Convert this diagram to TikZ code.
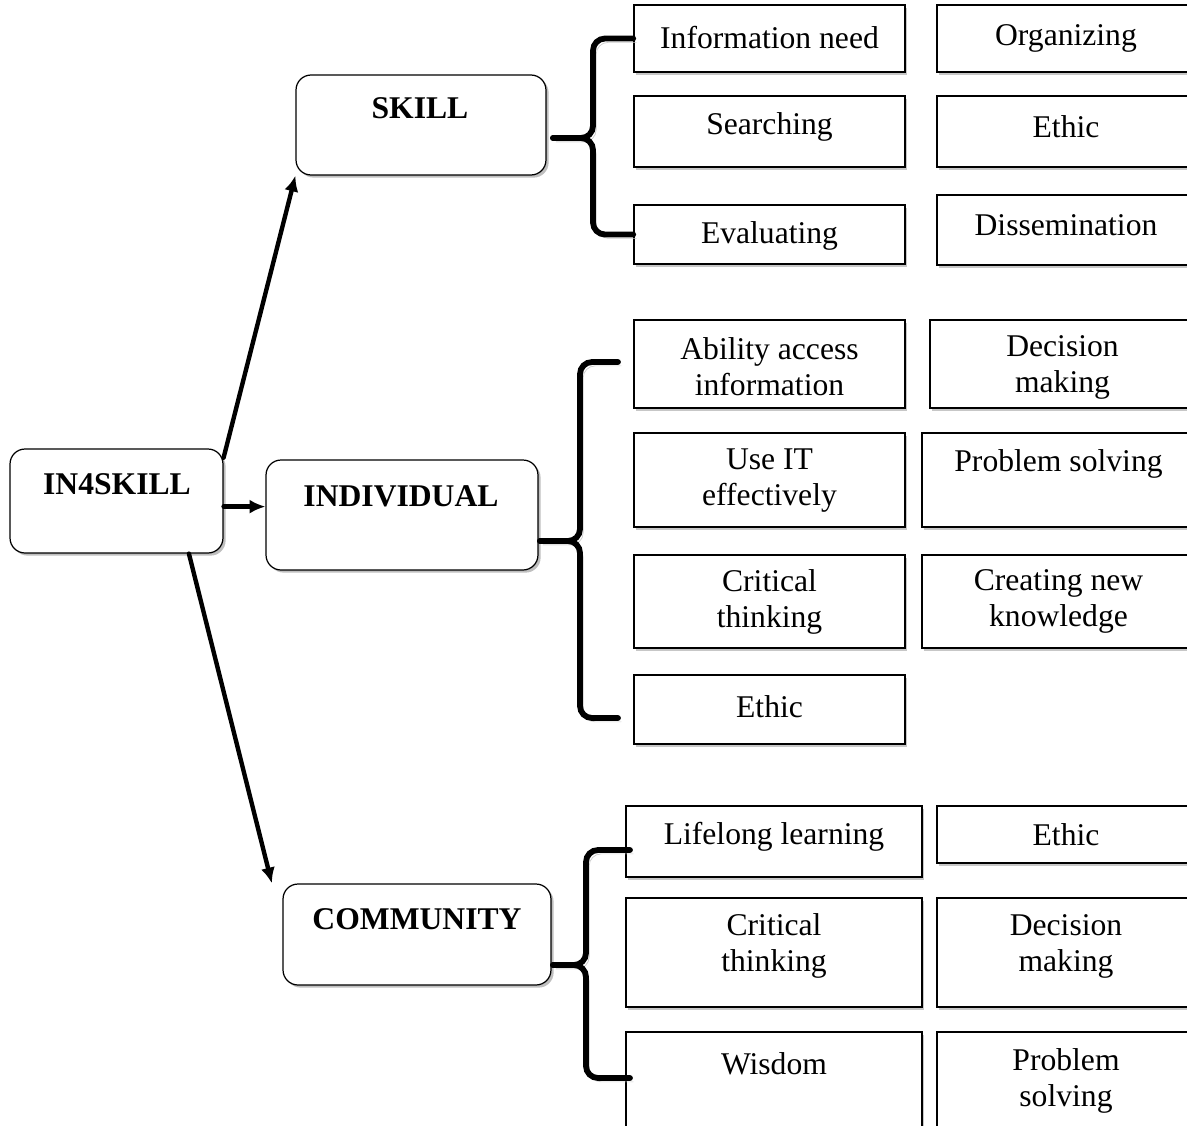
\documentclass[tikz,border=0pt]{standalone}
\usepackage{fontspec}
\setmainfont{Liberation Serif}
\usetikzlibrary{arrows.meta,shadows}

\begin{document}
\begin{tikzpicture}[x=0.02cm,y=-0.02cm,line cap=round,
  mainbox/.style={draw,line width=0.7pt,rounded corners=0.3cm,fill=white,inner sep=0pt,
    drop shadow={shadow xshift=1.5pt,shadow yshift=-1.5pt,fill=black!25,opacity=1}},
  itembox/.style={draw,line width=0.9pt,fill=white,inner sep=0pt,
    drop shadow={shadow xshift=1.2pt,shadow yshift=-1.5pt,fill=black!22,opacity=1}},
  maintext/.style={font=\fontsize{18}{21}\selectfont\bfseries},
  itemtext/.style={font=\fontsize{18}{20.5}\selectfont,align=center},
  arr/.style={line width=2.5pt,-{Latex[length=9pt,width=8pt]}},
  brace/.style={line width=3.3pt,rounded corners=0.24cm,
    preaction={draw=black!20,transform canvas={shift={(1.8pt,-2.2pt)}}}}]
  \useasboundingbox (0,0) rectangle (1187,1126);

  % ---------------- main boxes ----------------
  \node[mainbox,minimum width=4.26cm,minimum height=2.08cm] (in4) at (116.5,501) {};
  \node[mainbox,minimum width=5cm,minimum height=2cm] (skill) at (421,125) {};
  \node[mainbox,minimum width=5.44cm,minimum height=2.2cm] (indiv) at (402,515) {};
  \node[mainbox,minimum width=5.36cm,minimum height=2.02cm] (comm) at (417,934.5) {};
  \node[maintext] (in4-t) at (117,484) {IN4SKILL};
  \node[maintext] (skill-t) at (420,108) {SKILL};
  \node[maintext] (indiv-t) at (401,496) {INDIVIDUAL};
  \node[maintext] (comm-t) at (417,919) {COMMUNITY};

  % ---------------- item boxes: name/left/top/right/bottom/text y/text ----------------
  \foreach \nm/\xa/\ya/\xb/\yb/\ty/\txt in {
      info/634/5/905/72/38/{Information need},
      org/937/5/1195/72/38/{Organizing},
      search/634/96/905/167/127/{Searching},
      ethS/937/96/1195/167/127/{Ethic},
      eval/634/205/905/264/236/{Evaluating},
      diss/937/195/1195/265/225/{Dissemination},
      abil/634/320/905/408/367/{Ability access\\information},
      decI/930/320/1195/408/367/{Decision\\making},
      useit/634/433/905/527/481/{Use IT\\effectively},
      probI/922/433/1195/527/464/{Problem solving},
      critI/634/555/905/648/602/{Critical\\thinking},
      create/922/555/1195/648/601/{Creating new\\knowledge},
      ethI/634/675/905/744/707/{Ethic},
      life/626/806/922/877/837/{Lifelong learning},
      ethC/937/806/1195/863/835/{Ethic},
      critC/626/898/922/1007/946/{Critical\\thinking},
      decC/937/898/1195/1007/946/{Decision\\making},
      wis/626/1032/922/1140/1064/{Wisdom},
      probC/937/1032/1195/1140/1081/{Problem\\solving}}
    {\node[itembox,minimum width=(\xb-\xa)*0.02cm,minimum height=(\yb-\ya)*0.02cm]
       (\nm) at ({(\xa+\xb)/2},{(\ya+\yb)/2}) {};
     \node[itemtext] (\nm-t) at ({(\xa+\xb)/2},\ty) {\txt};}

  % ---------------- arrows ----------------
  \draw[arr] (in4.22) -- (skill.south west);
  \draw[arr] (in4.-3) -- (in4.-3 -| indiv.west);
  \draw[arr] (in4.-36) -- ([xshift=-6pt]comm.north west);

  % ---------------- braces ----------------
  \coordinate (sTip) at (553,138);
  \draw[brace] (sTip) -- ++(40,0) |- (info.west);
  \draw[brace] (sTip) -- ++(40,0) |- (eval.west);
  \coordinate (iTip) at (540,541);
  \coordinate (iTop) at (618,362);
  \coordinate (iBot) at (618,718);
  \draw[brace] (iTip) -- ++(40,0) |- (iTop);
  \draw[brace] (iTip) -- ++(40,0) |- (iBot);
  \coordinate (cTip) at (553,965);
  \coordinate (cTop) at (630,850);
  \coordinate (cBot) at (630,1078);
  \draw[brace] (cTip) -- ++(33,0) |- (cTop);
  \draw[brace] (cTip) -- ++(33,0) |- (cBot);
\end{tikzpicture}
\end{document}
